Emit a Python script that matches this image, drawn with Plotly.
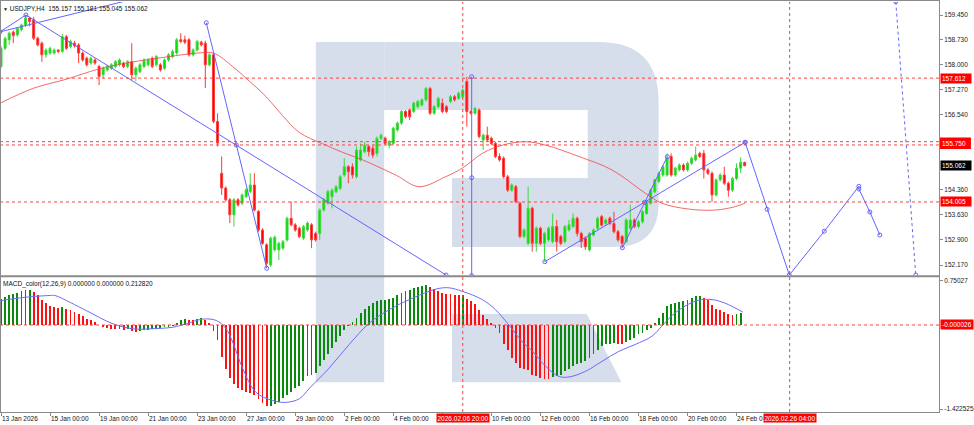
import plotly.graph_objects as go

# ---------------- data ----------------
opens = [
    157.95, 158.48, 158.73, 158.95, 158.87, 159.02, 159.16, 159.36, 159.31, 158.77,
    158.63, 158.29, 158.34, 158.34, 158.43, 158.39, 158.82, 158.53, 158.63, 158.58,
    158.34, 158.19, 158.05, 158.14, 157.95, 157.71, 157.85, 157.90, 157.95, 158.00,
    158.05, 157.95, 158.09, 157.71, 157.80, 157.95, 158.00, 158.19, 158.00, 158.00,
    157.90, 158.14, 158.24, 158.34, 158.73, 158.73, 158.73, 158.29, 158.43, 158.66,
    158.63, 158.00, 158.29, 156.35, 154.84, 154.41, 154.07, 153.63, 154.07, 153.97,
    154.16, 154.31, 154.50, 153.73, 153.19, 152.76, 152.17, 152.61, 152.61, 152.66,
    152.90, 153.53, 153.34, 153.24, 152.95, 153.19, 153.34, 153.09, 153.09, 153.77,
    153.97, 154.16, 154.30, 154.40, 154.79, 155.03, 155.03, 154.74, 155.23, 155.47,
    155.62, 155.57, 155.42, 155.86, 155.86, 155.66, 155.71, 156.10, 156.30, 156.64,
    156.68, 156.64, 156.78, 156.83, 156.98, 157.31, 156.59, 156.78, 156.88, 156.78,
    156.93, 157.07, 157.02, 157.07, 157.51, 156.64, 156.59, 156.68, 155.81, 155.95,
    155.86, 155.71, 155.33, 155.28, 154.74, 154.35, 154.45, 153.97, 153.00, 152.80,
    153.82, 152.80, 153.24, 152.80, 152.90, 152.85, 153.29, 153.00, 152.85, 153.19,
    153.29, 153.53, 153.09, 152.95, 152.61, 153.04, 153.24, 153.58, 153.38, 153.53,
    153.38, 153.14, 153.00, 152.85, 153.24, 153.48, 153.29, 153.43, 153.67, 153.97,
    154.30, 154.60, 154.79, 154.79, 155.33, 154.79, 154.94, 155.08, 154.94, 155.13,
    155.23, 155.42, 155.42, 154.94, 154.84, 154.21, 154.65, 154.79, 154.55, 154.35,
    154.69, 154.99, 155.157]
highs = [
    158.55, 158.82, 158.97, 159.00, 159.10, 159.20, 159.45, 159.40, 159.40, 158.82,
    158.68, 158.48, 158.53, 158.48, 158.45, 158.90, 158.87, 158.73, 158.70, 158.63,
    158.39, 158.24, 158.24, 158.19, 158.00, 157.95, 158.00, 158.05, 158.14, 158.19,
    158.09, 158.14, 158.63, 157.95, 158.05, 158.19, 158.20, 158.24, 158.29, 158.05,
    158.19, 158.34, 158.45, 158.78, 158.92, 158.85, 158.78, 158.48, 158.73, 158.70,
    158.70, 158.34, 158.34, 156.59, 155.33, 154.46, 154.12, 154.12, 154.12, 154.26,
    154.41, 154.84, 154.84, 153.77, 153.24, 152.80, 153.00, 153.03, 152.85, 152.90,
    153.58, 154.02, 153.39, 153.29, 153.34, 153.44, 153.39, 153.14, 153.82, 154.12,
    154.36, 154.40, 154.50, 154.79, 155.28, 155.08, 155.13, 155.62, 155.71, 155.76,
    155.66, 155.66, 155.91, 156.00, 155.91, 155.81, 156.20, 156.35, 156.68, 156.68,
    156.73, 156.93, 156.98, 157.02, 157.36, 157.36, 156.83, 157.07, 157.02, 156.83,
    157.12, 157.12, 157.22, 157.31, 157.65, 156.68, 156.78, 156.73, 156.00, 156.20,
    155.91, 155.76, 155.42, 155.33, 154.79, 154.55, 154.50, 154.01, 153.24, 154.45,
    153.87, 153.29, 153.29, 153.14, 153.29, 153.67, 153.48, 153.05, 153.34, 153.48,
    153.67, 153.58, 153.14, 153.00, 153.14, 153.24, 153.58, 153.63, 153.53, 153.58,
    153.72, 153.19, 153.05, 153.53, 153.92, 153.53, 153.48, 153.77, 154.06, 154.40,
    154.69, 154.89, 155.08, 155.42, 155.42, 155.03, 155.13, 155.13, 155.18, 155.33,
    155.62, 155.47, 155.52, 154.99, 154.89, 154.69, 154.84, 155.03, 154.60, 154.74,
    155.13, 155.31, 155.181]
lows = [
    157.90, 158.43, 158.58, 158.63, 158.82, 158.97, 159.10, 159.12, 158.72, 158.53,
    158.09, 158.20, 158.29, 158.30, 158.34, 158.34, 158.43, 158.48, 158.50, 158.05,
    158.09, 157.95, 158.00, 158.00, 157.41, 157.60, 157.80, 157.85, 157.90, 157.95,
    157.90, 157.90, 157.56, 157.52, 157.75, 157.90, 157.95, 157.90, 157.95, 157.80,
    157.85, 158.09, 158.19, 158.29, 158.63, 158.60, 158.24, 158.24, 158.39, 158.53,
    157.32, 157.95, 156.30, 155.62, 154.21, 154.02, 153.39, 153.29, 153.87, 153.92,
    154.12, 154.26, 153.73, 153.14, 152.76, 152.08, 152.12, 152.56, 152.32, 152.61,
    152.85, 153.29, 153.14, 152.95, 152.90, 153.14, 152.66, 152.85, 152.90, 153.73,
    153.92, 153.82, 154.26, 154.35, 154.74, 154.55, 154.69, 154.69, 155.18, 155.42,
    155.33, 155.28, 155.33, 155.81, 155.66, 155.57, 155.66, 156.05, 156.25, 156.44,
    156.39, 156.59, 156.73, 156.78, 156.93, 156.54, 156.54, 156.73, 156.59, 156.59,
    156.88, 156.93, 156.98, 157.02, 156.20, 156.55, 156.54, 155.86, 155.52, 155.76,
    155.66, 155.28, 155.18, 154.69, 154.30, 154.30, 153.97, 152.95, 152.95, 152.75,
    152.56, 152.56, 152.75, 152.27, 152.85, 152.80, 152.56, 152.75, 152.80, 153.14,
    153.24, 153.00, 152.66, 152.61, 152.56, 153.00, 153.19, 153.29, 153.33, 153.33,
    153.09, 152.85, 152.66, 152.80, 153.19, 153.24, 153.24, 153.38, 153.63, 153.92,
    154.25, 154.55, 154.74, 154.74, 154.74, 154.74, 154.89, 154.89, 154.89, 155.08,
    155.18, 155.28, 154.69, 154.79, 154.01, 154.16, 154.60, 154.50, 154.16, 154.30,
    154.64, 154.85, 155.045]
closes = [
    158.48, 158.77, 158.92, 158.85, 159.06, 159.16, 159.36, 159.26, 158.77, 158.58,
    158.29, 158.43, 158.48, 158.43, 158.39, 158.82, 158.48, 158.68, 158.55, 158.34,
    158.14, 158.00, 158.19, 158.05, 157.66, 157.90, 157.95, 158.00, 158.09, 158.14,
    157.95, 158.09, 157.71, 157.90, 158.00, 158.14, 158.14, 157.95, 158.24, 157.85,
    158.14, 158.29, 158.39, 158.73, 158.68, 158.66, 158.29, 158.43, 158.68, 158.58,
    158.00, 158.29, 156.35, 155.72, 154.41, 154.07, 153.63, 154.07, 153.92, 154.21,
    154.36, 154.50, 153.77, 153.19, 152.80, 152.22, 152.95, 152.98, 152.80, 152.85,
    153.53, 153.34, 153.19, 153.00, 153.29, 153.39, 152.90, 152.90, 153.77, 154.07,
    154.31, 154.35, 154.45, 154.74, 155.03, 154.89, 154.79, 155.52, 155.52, 155.66,
    155.47, 155.37, 155.86, 155.95, 155.71, 155.76, 156.15, 156.30, 156.64, 156.49,
    156.49, 156.88, 156.93, 156.98, 157.31, 156.59, 156.78, 157.02, 156.64, 156.64,
    157.07, 156.98, 157.17, 157.26, 156.64, 156.59, 156.73, 155.91, 155.95, 155.81,
    155.71, 155.33, 155.23, 154.74, 154.35, 154.50, 154.01, 153.00, 153.19, 153.82,
    152.80, 153.24, 152.80, 153.09, 153.24, 153.29, 152.85, 152.80, 153.29, 153.34,
    153.53, 153.09, 152.85, 152.70, 153.09, 153.19, 153.53, 153.33, 153.48, 153.38,
    153.14, 152.90, 152.80, 153.48, 153.48, 153.29, 153.43, 153.72, 154.01, 154.35,
    154.65, 154.84, 155.03, 155.28, 154.79, 154.99, 155.08, 154.94, 155.13, 155.28,
    155.37, 155.33, 154.94, 154.84, 154.21, 154.65, 154.79, 154.55, 154.35, 154.69,
    154.99, 155.16, 155.062]
bar_index = list(range(len(opens)))

# moving average
ma_bar = [-0.24, 8, 16, 24, 32, 40, 48, 52, 56.7, 60.8, 64.9, 68.9, 73, 78.7, 83.6,
          88.5, 96.6, 102.3, 108.8, 112.9, 117.8, 122.7, 128.4, 133.3, 141.4, 149.5,
          157.7, 161.7, 168.2, 174.8, 179.7, 182.1]
ma_price = [156.88, 157.32, 157.58, 157.88, 158.08, 158.22, 158.34, 158.34, 157.95,
            157.52, 157.07, 156.52, 156.03, 155.70, 155.45, 155.23, 154.79, 154.45,
            154.74, 154.99, 155.42, 155.66, 155.76, 155.66, 155.33, 154.94, 154.26,
            153.97, 153.80, 153.77, 153.87, 153.97]

# MACD histogram (bars 0..181) and signal line
macd_hist = [
    0.44, 0.47, 0.50, 0.53, 0.55, 0.57, 0.59, 0.60, 0.56, 0.50,
    0.43, 0.37, 0.33, 0.30, 0.29, 0.30, 0.27, 0.25, 0.22, 0.19,
    0.15, 0.10, 0.08, 0.05, 0.00, -0.03, -0.05, -0.06, -0.07, -0.06,
    -0.08, -0.07, -0.10, -0.11, -0.10, -0.09, -0.08, -0.07, -0.06, -0.05,
    -0.04, -0.03, -0.01, 0.03, 0.08, 0.10, 0.09, 0.08, 0.10, 0.12,
    0.08, 0.04, -0.10, -0.26, -0.55, -0.74, -0.90, -1.00, -1.06, -1.10,
    -1.13, -1.15, -1.19, -1.26, -1.32, -1.38, -1.37, -1.34, -1.30, -1.24,
    -1.18, -1.13, -1.07, -1.03, -0.95, -0.87, -0.84, -0.81, -0.70, -0.59,
    -0.49, -0.39, -0.29, -0.19, -0.09, -0.02, 0.045, 0.12, 0.20, 0.27,
    0.33, 0.37, 0.41, 0.42, 0.43, 0.44, 0.46, 0.50, 0.55, 0.57,
    0.60, 0.63, 0.64, 0.655, 0.68, 0.64, 0.61, 0.57, 0.54, 0.53,
    0.52, 0.51, 0.50, 0.505, 0.44, 0.40, 0.36, 0.26, 0.175, 0.10,
    0.03, -0.05, -0.135, -0.33, -0.42, -0.56, -0.64, -0.72, -0.74, -0.77,
    -0.84, -0.87, -0.90, -0.91, -0.915, -0.88, -0.86, -0.84, -0.785, -0.745,
    -0.69, -0.655, -0.645, -0.615, -0.56, -0.485, -0.43, -0.36, -0.33, -0.32,
    -0.30, -0.32, -0.33, -0.29, -0.25, -0.22, -0.16, -0.135, -0.08, -0.05,
    0.03, 0.12, 0.21, 0.32, 0.36, 0.38, 0.395, 0.41, 0.43, 0.46,
    0.485, 0.49, 0.46, 0.43, 0.34, 0.27, 0.25, 0.22, 0.18, 0.175,
    0.19, 0.21]
signal_bar = [-0.24, 6, 12, 13.2, 17, 21, 27.4, 32.3, 36.4, 42.1, 45.3, 49.4, 52.7,
              55.1, 56.7, 59.2, 62.4, 66.5, 69.8, 73, 75.5, 80.3, 85.2, 90.1, 95,
              99.9, 104.8, 107.2, 109.6, 112.9, 117.8, 121, 124.3, 127.5, 130,
              133.3, 136.5, 139, 143, 147.1, 151.2, 155.2, 159.3, 161.7, 164.2,
              167.4, 170.7, 174, 177.2, 181.5]
signal_val = [0.41, 0.47, 0.50, 0.50, 0.38, 0.24, 0.02, -0.065, -0.065, -0.037, 0.02,
              0.10, 0.076, -0.065, -0.29, -0.745, -1.14, -1.28, -1.31, -1.25, -1.07,
              -0.73, -0.33, 0.03, 0.26, 0.43, 0.57, 0.62, 0.63, 0.57, 0.43, 0.26,
              0.0, -0.28, -0.44, -0.70, -0.87, -0.88, -0.785, -0.615, -0.446, -0.33,
              -0.19, -0.02, 0.16, 0.32, 0.42, 0.43, 0.37, 0.22]

# axis labels (the 6 Feb label is hidden behind the red time marker in the reference)
time_tick_bar = [0, 12, 24, 36, 48, 60, 72, 84, 96, 108, 120, 132, 144, 156, 168, 180]
time_label_bar = [0, 12, 24, 36, 48, 60, 72, 84, 96, 120, 132, 144, 156, 168, 180]
time_label_text = ["13 Jan 2026", "15 Jan 00:00", "19 Jan 00:00", "21 Jan 00:00",
                   "23 Jan 00:00", "27 Jan 00:00", "29 Jan 00:00", "2 Feb 00:00",
                   "4 Feb 00:00", "10 Feb 00:00", "12 Feb 00:00",
                   "16 Feb 00:00", "18 Feb 00:00", "20 Feb 00:00", "24 Feb 0"]
price_tick_val = [159.45, 158.73, 158.00, 157.27, 156.54, 154.36, 153.63, 152.90, 152.17]
price_tick_text = ["159.450", "158.730", "158.000", "157.270", "156.540",
                   "154.360", "153.630", "152.900", "152.170"]
macd_tick_val = [0.75027, -1.422525]
macd_tick_text = ["0.75027", "-1.422525"]

# horizontal levels / vertical time markers
level_price = [157.612, 155.762, 155.665, 154.005]
level_label_price = [157.612, 154.005]
level_label_text = ["157.612", "154.005"]
cluster_label_price = 155.715
cluster_label_text = "155.750"
last_price = 155.062
last_price_text = "155.062"
macd_level = -0.000026
macd_level_text = "-0.000026"
vline_bar = [113, 193]
vline_text = ["2026.02.06 20:00", "2026.02.26 04:00"]

# drawn analysis objects (bar index, price)
obj_a_bar = [-0.24, 34.0]
obj_a_price = [158.96, 159.96]
obj_b_bar = [-0.24, 6.1, 108.9]
obj_b_price = [158.96, 159.45, 151.879]
obj_c_bar = [50.23, 57.56, 65.03]
obj_c_price = [159.226, 155.664, 152.074]
obj_d_bar = [115.19, 115.19, 115.19]
obj_d_price = [157.653, 154.712, 151.86]
obj_e_bar = [133.09, 157.51, 182.10]
obj_e_price = [152.266, 153.996, 155.743]
obj_f_bar = [152.06, 163.05]
obj_f_price = [152.674, 155.324]
obj_g_bar = [182.10, 187.47, 192.92, 201.47, 209.94, 209.94, 212.63, 215.07]
obj_g_price = [155.743, 153.792, 151.879, 153.151, 154.462, 154.383, 153.713, 153.044]
obj_h_bar = [218.97, 223.86]
obj_h_price = [159.837, 151.879]

# ---------------- figure ----------------
W, H = 974, 425
PLOT_R = 941.0
TOP, BOT = 2.0, 412.0


def PX(x):
    return x / PLOT_R


def PY(y):
    return (BOT - y) / (BOT - TOP)


FONT = "Liberation Sans, Arial, sans-serif"
FS = 6.5
BLUE = "#6464ff"
GRAY = "#8a8a8a"
WM = "rgb(213,222,234)"

fig = go.Figure()

fig.add_trace(go.Candlestick(
    x=bar_index, open=opens, high=highs, low=lows, close=closes,
    increasing=dict(line=dict(color="#3fd83f", width=1), fillcolor="#00dc00"),
    decreasing=dict(line=dict(color="#ff3a3a", width=1), fillcolor="#ff0000"),
    whiskerwidth=0, hoverinfo="skip", xaxis="x", yaxis="y"))

fig.add_trace(go.Scatter(x=ma_bar, y=ma_price, mode="lines", line=dict(color="rgba(240,70,70,0.8)", width=1),
                         line_shape="spline", hoverinfo="skip", xaxis="x", yaxis="y"))

marker = dict(symbol="circle-open", size=4, color=BLUE, line=dict(width=1, color=BLUE))
for bx, py, mode in [(obj_a_bar, obj_a_price, "lines"),
                     (obj_b_bar, obj_b_price, "lines+markers"),
                     (obj_c_bar, obj_c_price, "lines+markers"),
                     (obj_d_bar, obj_d_price, "lines+markers"),
                     (obj_e_bar, obj_e_price, "lines+markers"),
                     (obj_f_bar, obj_f_price, "lines+markers"),
                     (obj_g_bar, obj_g_price, "lines+markers")]:
    fig.add_trace(go.Scatter(x=bx, y=py, mode=mode, line=dict(color=BLUE, width=1), marker=marker,
                             hoverinfo="skip", xaxis="x", yaxis="y"))
fig.add_trace(go.Scatter(x=obj_h_bar, y=obj_h_price, mode="lines+markers",
                         line=dict(color=BLUE, width=1, dash="dot"), marker=marker,
                         hoverinfo="skip", xaxis="x", yaxis="y"))

hist_colors = []
prev = None
for v in macd_hist:
    hist_colors.append("#0a8a0a" if prev is None or v >= prev else "#ff1010")
    prev = v
fig.add_trace(go.Bar(x=bar_index[:len(macd_hist)], y=macd_hist, width=0.45,
                     marker=dict(color=hist_colors, line=dict(width=0)),
                     hoverinfo="skip", xaxis="x2", yaxis="y2"))
fig.add_trace(go.Scatter(x=signal_bar, y=signal_val, mode="lines", line_shape="spline",
                         line=dict(color="#6b6bff", width=1), hoverinfo="skip", xaxis="x2", yaxis="y2"))

x_range = [-1.0 / 4.095, (PLOT_R - 1.0) / 4.095]
price_range = [152.17 - 10.5 * 0.02912, 159.45 + 13 * 0.02912]
macd_range = [-1.422525 - 3 * 0.016935, 0.75027 + 3.7 * 0.016935]

axis_common = dict(showgrid=False, zeroline=False, fixedrange=True)
fig.update_layout(
    width=W, height=H,
    margin=dict(l=0, r=W - PLOT_R, t=TOP, b=H - BOT),
    paper_bgcolor="white", plot_bgcolor="white", showlegend=False,
    font=dict(family=FONT, size=FS, color="#000000"),
    xaxis=dict(domain=[0, 1], range=x_range, anchor="y", showticklabels=False,
               rangeslider=dict(visible=False), **axis_common),
    xaxis2=dict(domain=[0, 1], range=x_range, anchor="y2", matches="x", showticklabels=False,
                tickmode="array", tickvals=time_tick_bar, ticks="outside", ticklen=3,
                tickcolor=GRAY, tickwidth=1, **axis_common),
    yaxis=dict(domain=[PY(275.5), 1], range=price_range, anchor="x", side="right",
               tickmode="array", tickvals=price_tick_val, ticktext=price_tick_text,
               ticks="outside", ticklen=3, tickcolor=GRAY, tickfont=dict(size=FS, color="#222"),
               showline=False, **axis_common),
    yaxis2=dict(domain=[0, PY(277)], range=macd_range, anchor="x2", side="right",
                tickmode="array", tickvals=macd_tick_val, ticktext=macd_tick_text,
                ticks="outside", ticklen=3, tickcolor=GRAY, tickfont=dict(size=FS, color="#222"),
                showline=False, **axis_common),
    bargap=0,
)

shapes = []
# watermark logo
shapes.append(dict(type="rect", xref="paper", yref="paper", x0=PX(316.5), x1=PX(385),
                   y0=PY(382.3), y1=PY(42), fillcolor=WM, line=dict(width=0), layer="below"))
bowl = (f"M {PX(385)},{PY(42)} L {PX(600)},{PY(42)} Q {PX(660)},{PY(42)} {PX(660)},{PY(102)} "
        f"L {PX(660)},{PY(203)} Q {PX(660)},{PY(247)} {PX(615)},{PY(247)} L {PX(453)},{PY(247)} "
        f"L {PX(453)},{PY(178)} L {PX(589)},{PY(178)} L {PX(589)},{PY(110)} L {PX(385)},{PY(110)} Z")
shapes.append(dict(type="path", xref="paper", yref="paper", path=bowl, fillcolor=WM,
                   line=dict(width=0), layer="below"))
leg = (f"M {PX(453)},{PY(314)} L {PX(588)},{PY(314)} L {PX(622.7)},{PY(382.3)} "
       f"L {PX(453)},{PY(382.3)} Z")
shapes.append(dict(type="path", xref="paper", yref="paper", path=leg, fillcolor=WM,
                   line=dict(width=0), layer="below"))

# horizontal red levels
for p in level_price:
    shapes.append(dict(type="line", xref="paper", yref="y", x0=0, x1=1, y0=p, y1=p,
                       line=dict(color="#ff4040", width=1, dash="dot"), layer="above"))
shapes.append(dict(type="line", xref="paper", yref="y2", x0=0, x1=1, y0=macd_level, y1=macd_level,
                   line=dict(color="#ff4040", width=1, dash="dot"), layer="above"))
# vertical red time markers
for b in vline_bar:
    shapes.append(dict(type="line", xref="x", yref="paper", x0=b, x1=b, y0=0, y1=1,
                       line=dict(color="#ff4040", width=1, dash="dot"), layer="above"))
# frame lines
for (x0, y0, x1, y1, w) in [(0, 0.5, PLOT_R, 0.5, 1), (0.5, 0, 0.5, BOT, 1),
                            (PLOT_R + 0.5, 0, PLOT_R + 0.5, BOT, 1),
                            (0, 276.2, PLOT_R + 1, 276.2, 2), (0, BOT + 0.5, PLOT_R + 1, BOT + 0.5, 1)]:
    shapes.append(dict(type="line", xref="paper", yref="paper", x0=PX(x0), x1=PX(x1),
                       y0=PY(y0), y1=PY(y1), line=dict(color=GRAY, width=w), layer="above"))
# red cluster label background
shapes.append(dict(type="rect", xref="paper", yref="paper", x0=PX(942), x1=PX(973),
                   y0=PY(149), y1=PY(137.5), fillcolor="#ff0000", line=dict(width=0), layer="above"))
fig.update_layout(shapes=shapes)

ann = []
ann.append(dict(xref="paper", yref="paper", x=0, y=1, xanchor="left", yanchor="top", xshift=1, yshift=-1,
                text="<span style='font-size:5px'>▼</span> USDJPY,H4&nbsp;&nbsp;155.157 155.181 155.045 155.062",
                showarrow=False, font=dict(size=FS, color="#111")))
ann.append(dict(xref="paper", yref="paper", x=0, y=PY(277.5), xanchor="left", yanchor="top", xshift=1,
                text="MACD_color(12,26,9) 0.000000 0.000000 0.212820",
                showarrow=False, font=dict(size=FS, color="#111")))
for b, t in zip(time_label_bar, time_label_text):
    ann.append(dict(xref="x2", yref="paper", x=b, y=PY(418), xanchor="left", yanchor="middle", xshift=-1.5,
                    text=t, showarrow=False, font=dict(size=FS, color="#111")))
for b, t in zip(vline_bar, vline_text):
    ann.append(dict(xref="x2", yref="paper", x=b, y=PY(418), xanchor="center", yanchor="middle",
                    text=t, showarrow=False, bgcolor="#ff0000", borderpad=0.5,
                    font=dict(size=FS, color="white")))
for p, t in zip(level_label_price, level_label_text):
    ann.append(dict(xref="paper", yref="y", x=1, y=p, xanchor="left", yanchor="middle", xshift=1,
                    text=t, showarrow=False, bgcolor="#ff0000", borderpad=1, width=28, align="left",
                    font=dict(size=FS, color="white")))
ann.append(dict(xref="paper", yref="y", x=1, y=cluster_label_price, xanchor="left", yanchor="middle",
                xshift=1, text=cluster_label_text, showarrow=False, width=28, align="left",
                font=dict(size=FS, color="white")))
ann.append(dict(xref="paper", yref="y", x=1, y=last_price, xanchor="left", yanchor="middle", xshift=1,
                text=last_price_text, showarrow=False, bgcolor="#000000", borderpad=1, width=28,
                align="left", font=dict(size=FS, color="white")))
ann.append(dict(xref="paper", yref="y2", x=1, y=macd_level, xanchor="left", yanchor="middle", xshift=1,
                text=macd_level_text, showarrow=False, bgcolor="#ff0000", borderpad=1, align="left",
                font=dict(size=FS, color="white")))
fig.update_layout(annotations=ann)

fig.write_html("out.html", config={"displayModeBar": False, "staticPlot": True},
               post_script="document.body.style.margin='0';document.body.style.overflow='hidden';")
